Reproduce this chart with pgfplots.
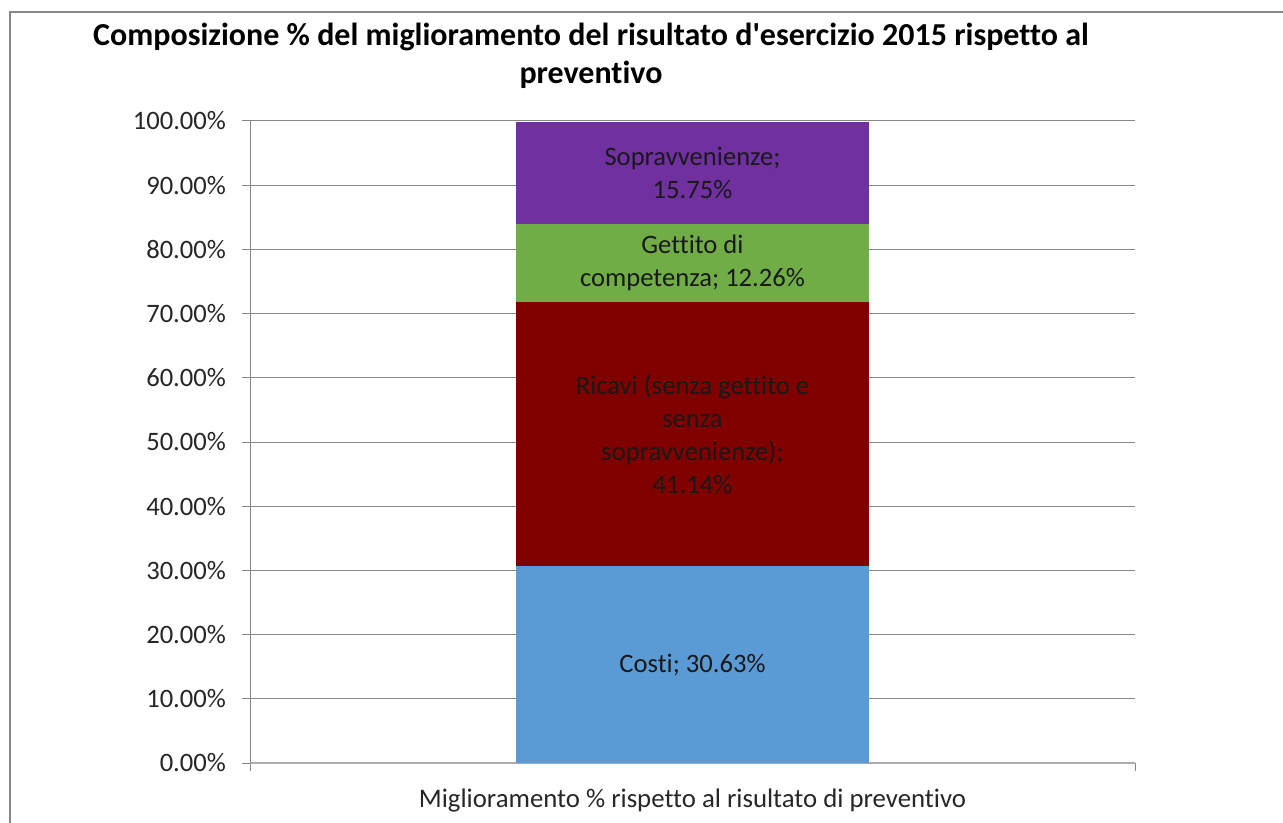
\documentclass[border=0pt]{standalone}
\usepackage{pgfplots}
\pgfplotsset{compat=1.18}
\usepackage{fontspec}
\setmainfont{Carlito}[Ligatures=NoCommon]
\definecolor{cCosti}{HTML}{5B9BD5}
\definecolor{cRicavi}{HTML}{800000}
\definecolor{cGettito}{HTML}{70AD47}
\definecolor{cSopra}{HTML}{7030A0}
\definecolor{gridc}{HTML}{878787}
\definecolor{axisc}{HTML}{ABABAB}
\definecolor{txt}{HTML}{262626}
\begin{document}
\begin{tikzpicture}
\useasboundingbox (0,0) rectangle (641.5pt,-411.5pt);
\draw[gridc, line width=0.75pt] (5pt,-411.5pt) -- (5pt,-6pt) -- (641.5pt,-6pt);
\node[font=\fontsize{16}{19}\selectfont\bfseries, align=center, text=black] at (295.5pt,-28pt) {Composizione \% del miglioramento del risultato d\textquotesingle esercizio 2015 rispetto al\\preventivo};
\begin{axis}[
  at={(125pt,-381.5pt)}, anchor=south west,
  scale only axis, width=442.5pt, height=321pt,
  xmin=0, xmax=1, ymin=0, ymax=100,
  ybar stacked, bar width=176.5pt,
  axis x line=bottom, axis y line=left, axis line style={-},
  x axis line style={axisc, line width=1pt},
  y axis line style={gridc, line width=0.5pt},
  ytick={0,10,...,100}, xtick={0,1}, xticklabels={},
  ymajorgrids, grid style={gridc, line width=0.5pt},
  tick align=outside, major tick length=4pt,
  tick style={gridc, line width=0.5pt},
  yticklabel={\pgfmathprintnumber[fixed,fixed zerofill,precision=2]{\tick}\%},
  /pgf/number format/assume math mode=true,
  ticklabel style={font=\fontsize{13.3}{16}\selectfont, text=txt},
  yticklabel style={xshift=-4.5pt},
  xlabel={Miglioramento \% rispetto al risultato di preventivo},
  xlabel style={font=\fontsize{13.4}{16}\selectfont, text=txt, yshift=1.5pt},
  every node near coord/.append style={anchor=center, align=center, font=\fontsize{13.3}{16.5}\selectfont, text=black!90},
]
\addplot[fill=cCosti, draw=none, nodes near coords={Costi; 30.63\%}] coordinates {(0.5,30.63)};
\addplot[fill=cRicavi, draw=none, nodes near coords={Ricavi (senza gettito e\\senza\\sopravvenienze);\\41.14\%}] coordinates {(0.5,41.14)};
\addplot[fill=cGettito, draw=none, nodes near coords={Gettito di\\competenza; 12.26\%}] coordinates {(0.5,12.26)};
\addplot[fill=cSopra, draw=none, nodes near coords={Sopravvenienze;\\15.75\%}] coordinates {(0.5,15.75)};
\end{axis}
\end{tikzpicture}
\end{document}
